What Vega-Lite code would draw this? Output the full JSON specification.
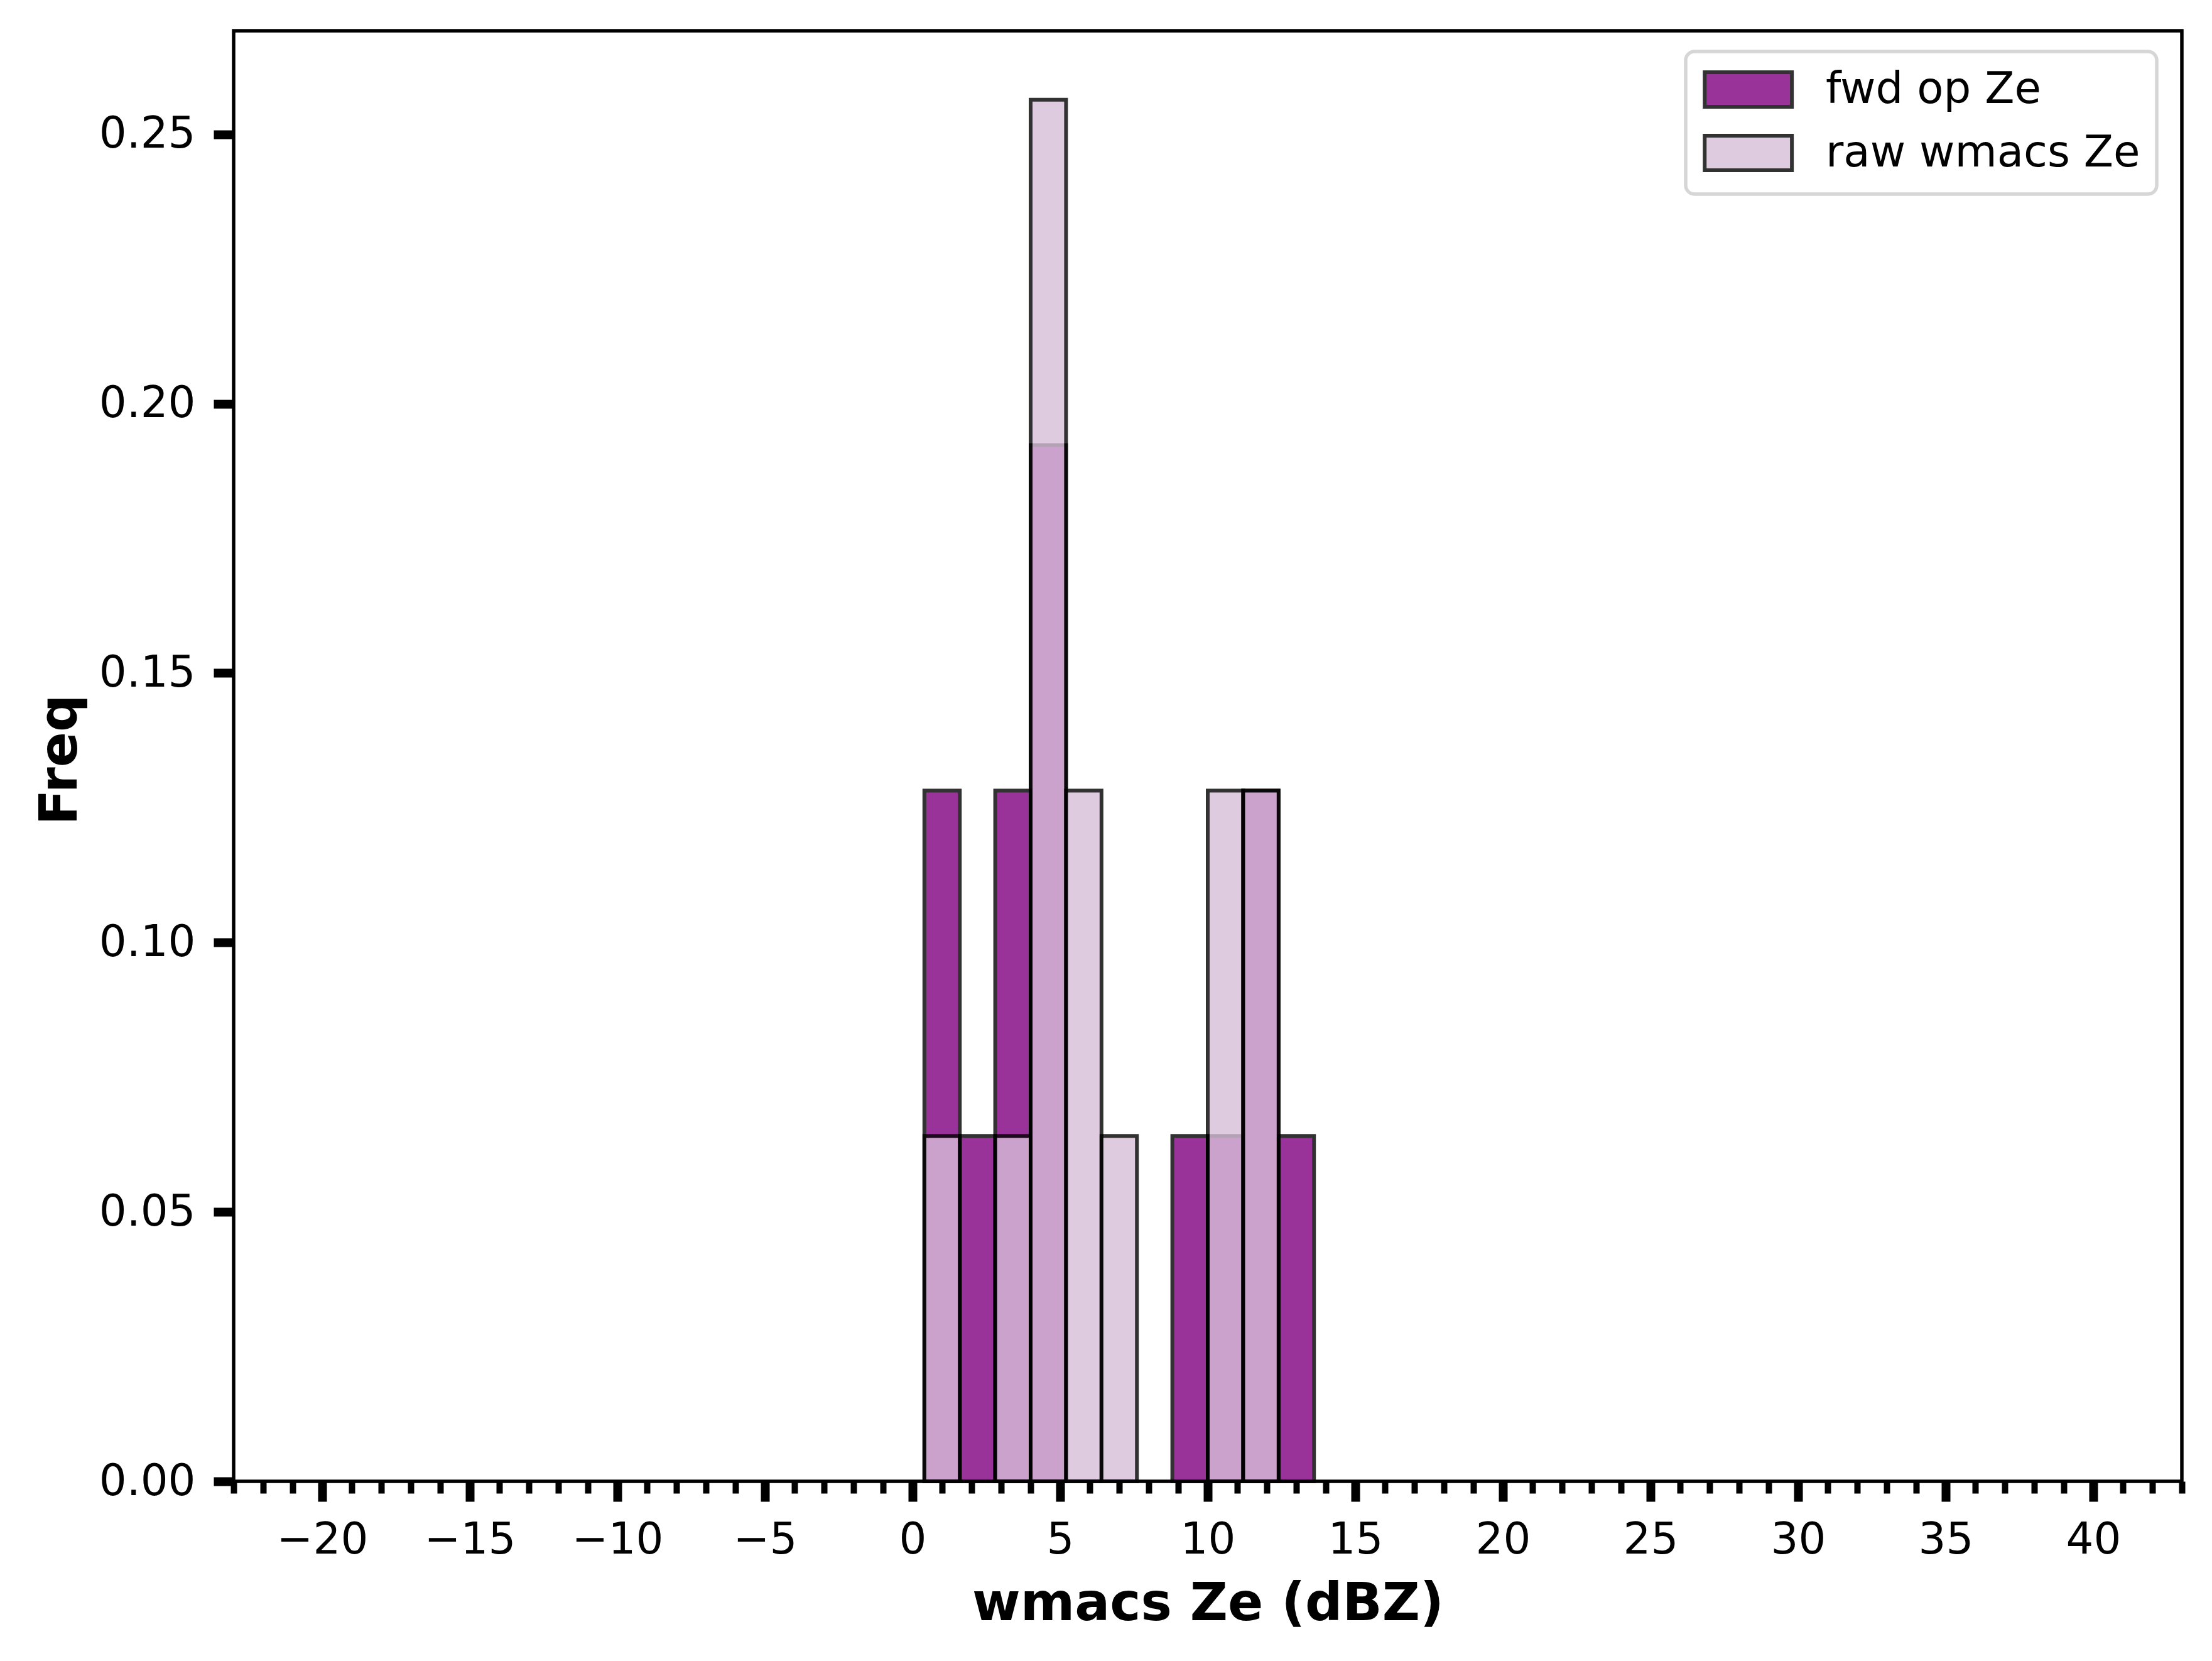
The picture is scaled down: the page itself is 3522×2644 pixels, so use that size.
{
  "$schema": "https://vega.github.io/schema/vega-lite/v6.json",
  "width": 3102,
  "height": 2309,
  "autosize": {"type": "none"},
  "padding": {"left": 372, "top": 49, "right": 48, "bottom": 286},
  "background": "white",
  "config": {
    "font": "DejaVu Sans",
    "view": {"stroke": "black", "strokeWidth": 5.5},
    "axis": {"labelFont": "DejaVu Sans", "titleFont": "DejaVu Sans", "labelColor": "black", "titleColor": "black", "tickColor": "black"}
  },
  "data": {
    "values": [
      {"series": "fwd op Ze", "bin_start": 0.4, "bin_end": 1.6, "freq": 0.1282},
      {"series": "fwd op Ze", "bin_start": 1.6, "bin_end": 2.8, "freq": 0.0641},
      {"series": "fwd op Ze", "bin_start": 2.8, "bin_end": 4.0, "freq": 0.1282},
      {"series": "fwd op Ze", "bin_start": 4.0, "bin_end": 5.2, "freq": 0.1923},
      {"series": "fwd op Ze", "bin_start": 8.8, "bin_end": 10.0, "freq": 0.0641},
      {"series": "fwd op Ze", "bin_start": 10.0, "bin_end": 11.2, "freq": 0.0641},
      {"series": "fwd op Ze", "bin_start": 11.2, "bin_end": 12.4, "freq": 0.1282},
      {"series": "fwd op Ze", "bin_start": 12.4, "bin_end": 13.6, "freq": 0.0641},
      {"series": "raw wmacs Ze", "bin_start": 0.4, "bin_end": 1.6, "freq": 0.0641},
      {"series": "raw wmacs Ze", "bin_start": 2.8, "bin_end": 4.0, "freq": 0.0641},
      {"series": "raw wmacs Ze", "bin_start": 4.0, "bin_end": 5.2, "freq": 0.2564},
      {"series": "raw wmacs Ze", "bin_start": 5.2, "bin_end": 6.4, "freq": 0.1282},
      {"series": "raw wmacs Ze", "bin_start": 6.4, "bin_end": 7.6, "freq": 0.0641},
      {"series": "raw wmacs Ze", "bin_start": 10.0, "bin_end": 11.2, "freq": 0.1282},
      {"series": "raw wmacs Ze", "bin_start": 11.2, "bin_end": 12.4, "freq": 0.1282}
    ]
  },
  "layer": [
    {
      "mark": {"type": "bar", "stroke": "black", "strokeWidth": 6, "opacity": 0.8},
      "encoding": {
        "x": {
          "field": "bin_start",
          "type": "quantitative",
          "scale": {"domain": [-23, 43], "nice": false, "zero": false},
          "axis": {
            "orient": "bottom",
            "values": [-20, -15, -10, -5, 0, 5, 10, 15, 20, 25, 30, 35, 40],
            "format": "d",
            "domain": false,
            "grid": false,
            "tickSize": 32,
            "tickWidth": 14,
            "labelFontSize": 69,
            "labelBaseline": "alphabetic",
            "labelPadding": 82,
            "labelFlush": false,
            "labelOverlap": false,
            "title": "wmacs Ze (dBZ)",
            "titleFontSize": 83,
            "titleFontWeight": "bold",
            "titleBaseline": "alphabetic",
            "titleAlign": "center",
            "titleX": 1551,
            "titleY": 220
          }
        },
        "x2": {"field": "bin_end"},
        "y": {
          "field": "freq",
          "type": "quantitative",
          "stack": null,
          "scale": {"domain": [0, 0.2692], "nice": false},
          "axis": {
            "values": [0, 0.05, 0.1, 0.15, 0.2, 0.25],
            "format": ".2f",
            "domain": false,
            "grid": false,
            "tickSize": 32,
            "tickWidth": 14,
            "labelFontSize": 69,
            "labelPadding": 29,
            "labelFlush": false,
            "title": "Freq",
            "titleFontSize": 83,
            "titleFontWeight": "bold",
            "titleAngle": -90,
            "titleBaseline": "alphabetic",
            "titleAlign": "center",
            "titleX": -251,
            "titleY": 1160
          }
        },
        "y2": {"datum": 0},
        "fill": {
          "field": "series",
          "type": "nominal",
          "scale": {"domain": ["fwd op Ze", "raw wmacs Ze"], "range": ["purple", "thistle"]},
          "legend": {
            "title": null,
            "orient": "none",
            "legendX": 2312,
            "legendY": 33,
            "padding": 26,
            "fillColor": "white",
            "strokeColor": "#d6d6d6",
            "cornerRadius": 14,
            "symbolType": "M-1.1,-1H3.95V1H-1.1Z",
            "symbolSize": 3025,
            "symbolStrokeColor": "black",
            "symbolStrokeWidth": 6,
            "symbolOpacity": 0.8,
            "labelFont": "DejaVu Sans",
            "labelFontSize": 69,
            "labelColor": "black",
            "labelOffset": 128,
            "rowPadding": 22,
            "labelLimit": 1000,
            "encode": {"legend": {"update": {"strokeWidth": {"value": 5.5}}}}
          }
        }
      }
    },
    {
      "mark": {"type": "rule", "opacity": 0},
      "encoding": {
        "x": {
          "field": "bin_start",
          "type": "quantitative",
          "axis": {
            "orient": "bottom",
            "values": [-23, -22, -21, -20, -19, -18, -17, -16, -15, -14, -13, -12, -11, -10, -9, -8, -7, -6, -5, -4, -3, -2, -1, 0, 1, 2, 3, 4, 5, 6, 7, 8, 9, 10, 11, 12, 13, 14, 15, 16, 17, 18, 19, 20, 21, 22, 23, 24, 25, 26, 27, 28, 29, 30, 31, 32, 33, 34, 35, 36, 37, 38, 39, 40, 41, 42, 43],
            "labels": false,
            "domain": false,
            "grid": false,
            "tickSize": 19,
            "tickWidth": 10,
            "title": null
          }
        }
      }
    }
  ],
  "resolve": {"axis": {"x": "independent"}}
}
